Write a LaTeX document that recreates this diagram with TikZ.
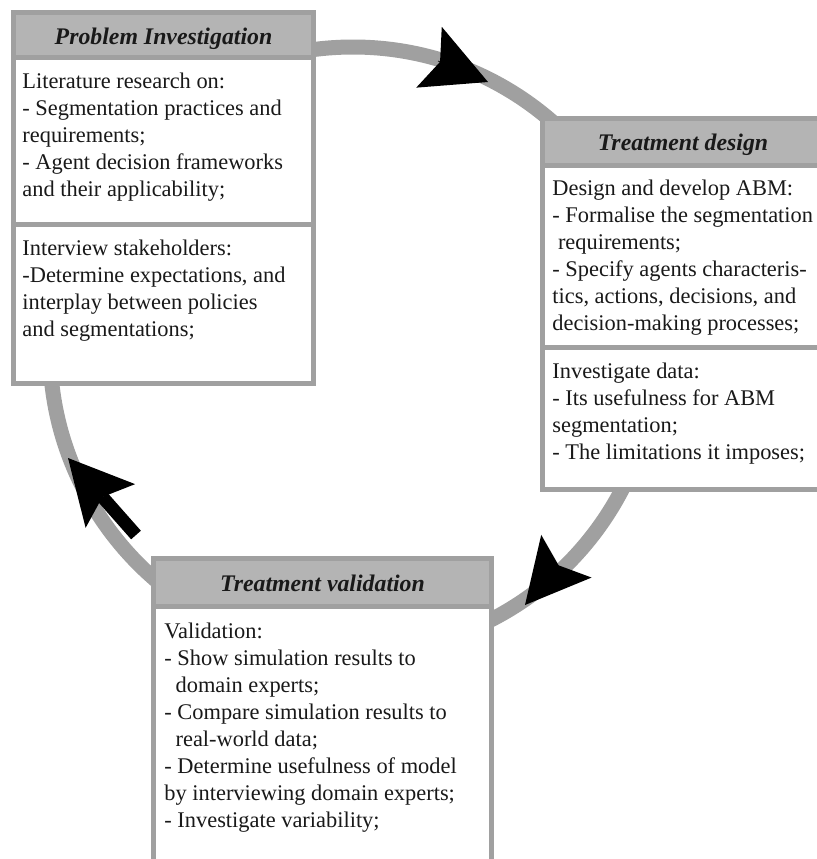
\documentclass[tikz,border=0pt]{standalone}
\usepackage{fontspec}
\setmainfont{Liberation Serif}
\usetikzlibrary{arrows.meta}
\definecolor{ringgray}{HTML}{A0A0A0}
\definecolor{headgray}{HTML}{B4B4B4}

\begin{document}
\begin{tikzpicture}[x=0.5pt,y=-0.5pt,
  frame/.style={draw=ringgray,line width=2.5pt,fill=white},
  header/.style={frame,fill=headgray},
  title/.style={font=\fontsize{11.9}{14}\selectfont\bfseries\itshape,anchor=base,text=black!90,inner sep=0pt},
  bodytext/.style={font=\fontsize{11.2}{13.5}\selectfont,anchor=north west,align=left,inner sep=0pt,text=black!90},
  headtip/.style={-{Stealth[length=32pt,width=33pt,inset=6pt,line width=0pt]}}]
\useasboundingbox (0,0) rectangle (817,859);
\clip (0,0) rectangle (817,859);
\fill[white] (0,0) rectangle (817,859);

% cycle ring
\coordinate (ctr) at (353,350);
\draw[ringgray,line width=7.5pt] (ctr) circle[radius=151.5pt];

% Problem Investigation
\draw[header] (13.5,12.5) rectangle (313.5,57);
\draw[frame] (13.5,57) rectangle (313.5,224);
\draw[frame] (13.5,224) rectangle (313.5,383.5);
\node[title] (piTitle) at (163.5,44) {Problem Investigation};
\node[bodytext] (piLit) at (22,69.1) {\strut Literature research on:\\- Segmentation practices and\\requirements;\\- Agent decision frameworks\\and their applicability;};
\node[bodytext] (piInt) at (22,236.1) {\strut Interview stakeholders:\\-Determine expectations, and\\interplay between policies\\and segmentations;};

% Treatment design
\draw[header] (542.5,118) rectangle (823,165);
\draw[frame] (542.5,165) rectangle (823,347.5);
\draw[frame] (542.5,347.5) rectangle (823,489.5);
\node[title] (tdTitle) at (683,150.5) {Treatment design};
\node[bodytext] (tdAbm) at (552,176.1) {\strut Design and develop ABM:\\- Formalise the segmentation\\\ requirements;\\- Specify agents characteris-\\tics, actions, decisions, and\\decision-making processes;};
\node[bodytext] (tdData) at (552,359.1) {\strut Investigate data:\\- Its usefulness for ABM\\segmentation;\\- The limitations it imposes;};

% Treatment validation
\draw[header] (153.5,558.5) rectangle (491,606.5);
\draw[frame] (153.5,606.5) rectangle (491,880);
\node[title] (tvTitle) at (322.5,591) {Treatment validation};
\node[bodytext] (tvVal) at (164,619.1) {\strut Validation:\\- Show simulation results to\\\ \ domain experts;\\- Compare simulation results to\\\ \ real-world data;\\- Determine usefulness of model\\by interviewing domain experts;\\- Investigate variability;};

% arrows on the ring
\coordinate (a1s) at (438,61);
\coordinate (a1e) at (488,82);
\coordinate (a2s) at (558.6,565.4);
\coordinate (a2e) at (525,605);
\coordinate (a3s) at (136,535);
\coordinate (a3e) at (68,458);
\draw[headtip,line width=0.3pt] (a1s) -- (a1e);
\draw[headtip,line width=0.3pt] (a2s) -- (a2e);
\draw[headtip,line width=6.5pt] (a3s) -- (a3e);

\end{tikzpicture}
\end{document}
